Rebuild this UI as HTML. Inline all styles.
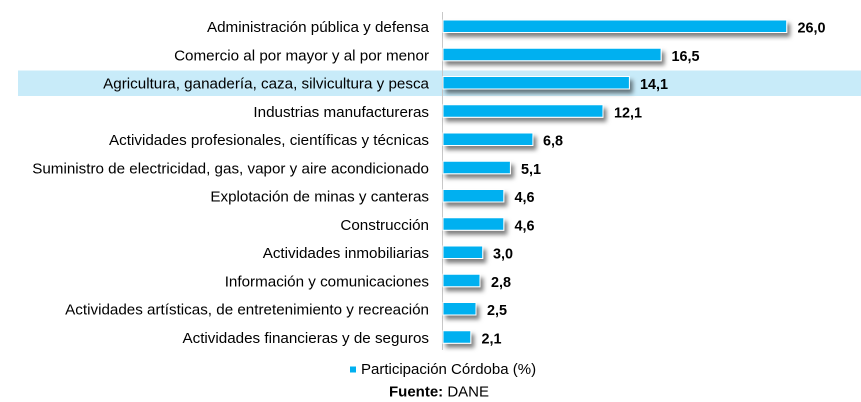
<!DOCTYPE html>
<html><head><meta charset="utf-8"><style>
html,body{margin:0;padding:0;background:#fff;}
svg{display:block;}
text{font-family:"Liberation Sans",Arial,sans-serif;}
</style></head><body>
<svg width="861" height="402" viewBox="0 0 861 402" xmlns="http://www.w3.org/2000/svg">
<defs>
<filter id="sh" x="-10%" y="-60%" width="130%" height="280%">
<feDropShadow dx="3" dy="4" stdDeviation="2" flood-color="#000" flood-opacity="0.5"/>
</filter>
</defs>
<rect x="18" y="70.5" width="843" height="25.5" fill="#c8ebf9"/>
<line x1="442.5" y1="12" x2="442.5" y2="350" stroke="#c8c8c8" stroke-width="1"/>
<g fill="#00b0f0" stroke="#fff" stroke-width="1" filter="url(#sh)">
<rect x="443" y="20" width="343.7" height="12.5"/>
<rect x="443" y="48.25" width="218.1" height="12.5"/>
<rect x="443" y="76.5" width="186.4" height="12.5"/>
<rect x="443" y="104.75" width="160" height="12.5"/>
<rect x="443" y="133" width="89.9" height="12.5"/>
<rect x="443" y="161.25" width="67.4" height="12.5"/>
<rect x="443" y="189.5" width="60.8" height="12.5"/>
<rect x="443" y="217.75" width="60.8" height="12.5"/>
<rect x="443" y="246" width="39.7" height="12.5"/>
<rect x="443" y="274.25" width="37" height="12.5"/>
<rect x="443" y="302.5" width="33" height="12.5"/>
<rect x="443" y="330.75" width="27.8" height="12.5"/>
</g>
<g font-size="15.2" fill="#000" text-anchor="end">
<text x="429" y="32">Administración pública y defensa</text>
<text x="429" y="60.25">Comercio al por mayor y al por menor</text>
<text x="429" y="88.5">Agricultura, ganadería, caza, silvicultura y pesca</text>
<text x="429" y="116.75">Industrias manufactureras</text>
<text x="429" y="145">Actividades profesionales, científicas y técnicas</text>
<text x="429" y="173.25">Suministro de electricidad, gas, vapor y aire acondicionado</text>
<text x="429" y="201.5">Explotación de minas y canteras</text>
<text x="429" y="229.75">Construcción</text>
<text x="429" y="258">Actividades inmobiliarias</text>
<text x="429" y="286.25">Información y comunicaciones</text>
<text x="429" y="314.5">Actividades artísticas, de entretenimiento y recreación</text>
<text x="429" y="342.75">Actividades financieras y de seguros</text>
</g>
<g font-size="14.4" font-weight="bold" fill="#000">
<text x="797.5" y="32.5">26,0</text>
<text x="671.5" y="60.75">16,5</text>
<text x="640" y="89">14,1</text>
<text x="614" y="117.25">12,1</text>
<text x="543" y="145.5">6,8</text>
<text x="521" y="173.75">5,1</text>
<text x="514.5" y="202">4,6</text>
<text x="514.5" y="230.25">4,6</text>
<text x="493" y="258.5">3,0</text>
<text x="491" y="286.75">2,8</text>
<text x="487" y="315">2,5</text>
<text x="481.5" y="343.25">2,1</text>
</g>
<rect x="350" y="366.5" width="6" height="6" fill="#00b0f0"/>
<text x="361" y="374" font-size="15" fill="#000">Participación Córdoba (%)</text>
<text x="389" y="396.5" font-size="15" fill="#000"><tspan font-weight="bold">Fuente:</tspan> DANE</text>
</svg>
</body></html>
